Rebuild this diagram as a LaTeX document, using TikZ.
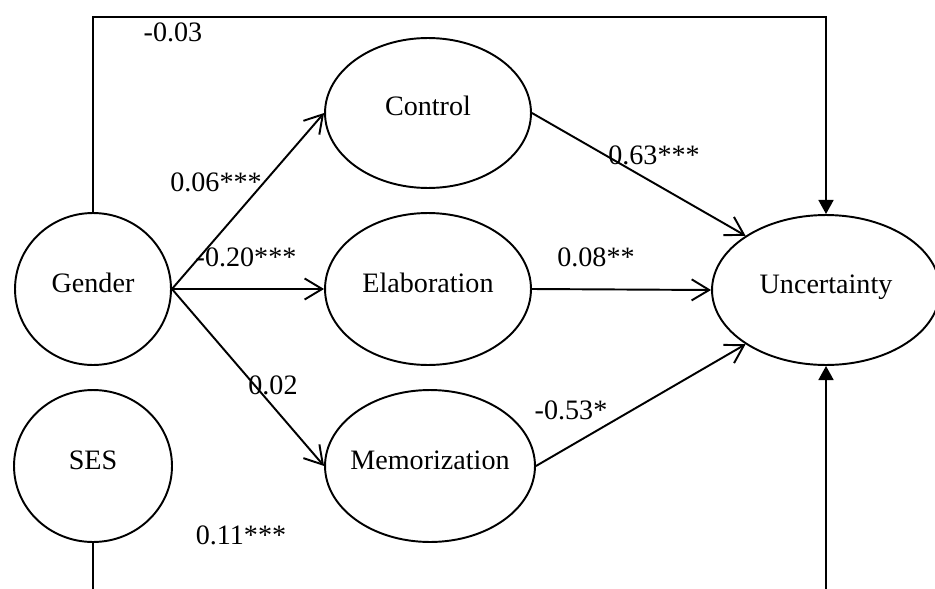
\documentclass[tikz,border=0pt]{standalone}
\usepackage{fontspec}
\setmainfont{Liberation Serif}
\usetikzlibrary{shapes.geometric,arrows.meta}
% text set in a zero-width box so the ellipse keeps its own size
\newcommand{\centred}[1]{\makebox[0pt]{#1}}
\begin{document}
\begin{tikzpicture}[x=0.02cm,y=-0.02cm,
  latent/.style={ellipse,draw,line width=1.1pt,inner sep=0pt,
    font=\fontsize{16}{18}\selectfont,text height=0.4cm,text depth=0.28cm},
  effect/.style={line width=1.1pt,-{Straight Barb[length=10pt,width=12pt,line width=1.1pt]}},
  direct/.style={line width=1.1pt,-{Triangle[length=8pt,width=8.5pt]}},
  coef/.style={font=\fontsize{16}{18}\selectfont,inner sep=0pt}]
\useasboundingbox (0,0) rectangle (935,588);

% variables
\node[latent,minimum width=3.12cm,minimum height=3.04cm] (G) at (93,289) {\centred{Gender}};
\node[latent,minimum width=3.16cm,minimum height=3.04cm] (S) at (93,466) {\centred{SES}};
\node[latent,minimum width=4.12cm,minimum height=3.00cm] (C) at (428,113) {\centred{Control}};
\node[latent,minimum width=4.12cm,minimum height=3.04cm] (E) at (428,289) {\centred{Elaboration}};
\node[latent,minimum width=4.20cm,minimum height=3.04cm] (M) at (430,466) {\centred{Memorization}};
\node[latent,minimum width=4.56cm,minimum height=3.00cm] (U) at (826,290) {\centred{Uncertainty}};

% routing levels of the direct paths
\coordinate (topY) at (0,17);
\coordinate (botY) at (0,620);

% indirect paths
\draw[effect] (G.east) -- (C.west);
\draw[effect] (G.east) -- (E.west);
\draw[effect] (G.east) -- (M.west);
\draw[effect] (C.east) -- (U.146);
\draw[effect] (E.east) -- (U.west);
\draw[effect] (M.east) -- (U.214);

% direct paths
\draw[direct] (G.north) |- (U.north |- topY) -- (U.north);
\draw[direct] (S.south) |- (U.south |- botY) -- (U.south);

% coefficients
\node[coef] (k1) at (173,32)  {-0.03};
\node[coef] (k2) at (216,182) {0.06***};
\node[coef] (k3) at (654,155) {0.63***};
\node[coef] (k4) at (246,257) {-0.20***};
\node[coef] (k5) at (596,257) {0.08**};
\node[coef] (k6) at (273,385) {0.02};
\node[coef] (k7) at (571,410) {-0.53*};
\node[coef] (k8) at (241,535) {0.11***};
\end{tikzpicture}
\end{document}
